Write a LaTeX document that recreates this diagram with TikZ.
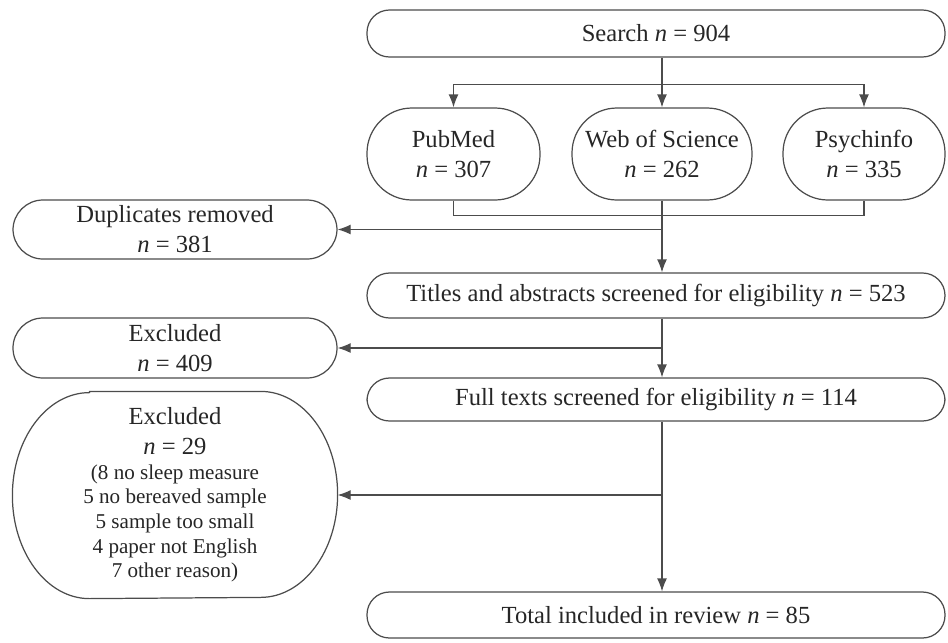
\documentclass[tikz,border=0pt]{standalone}
\usepackage{fontspec}
\setmainfont{Liberation Serif}
\usetikzlibrary{arrows.meta, positioning, calc}
\newcommand{\reasonfont}{\fontsize{12}{14}\selectfont}
\tikzset{
  every node/.style={font=\fontsize{14}{17}\selectfont, text=black!85},
  stage/.style = {rectangle, rounded corners=0.45cm, draw=black!70, line width=0.7pt,
                  minimum width=11.56cm, inner sep=2pt, align=center},
  src/.style   = {rectangle, rounded corners=0.9cm, draw=black!70, line width=0.7pt,
                  minimum height=1.84cm, inner sep=2pt, align=center},
  side/.style  = {rectangle, rounded corners=0.6cm, draw=black!70, line width=0.7pt,
                  minimum width=6.48cm, inner sep=2pt, align=center},
  arrow/.style = {-{Latex[length=2.6mm,width=2mm]}, draw=black!70, line width=0.7pt},
  link/.style  = {draw=black!70, line width=0.7pt},
}

\begin{document}
\begin{tikzpicture}
  \useasboundingbox (0,0) rectangle (18.96,-12.84);

  % ---- search and databases ----
  \node[stage, minimum height=0.94cm] (search) at (13.12,-0.67) {Search \textit{n} = 904};
  \node[src, minimum width=3.46cm] (pub) at (9.07,-3.08)  {PubMed\\\textit{n} = 307};
  \node[src, minimum width=3.60cm] (wos) at (13.24,-3.08) {Web of Science\\\textit{n} = 262};
  \node[src, minimum width=3.24cm] (psy) at (17.28,-3.08) {Psychinfo\\\textit{n} = 335};

  % ---- screening stages (right column) ----
  \node[stage, minimum height=0.90cm] (titles) at (13.12,-5.91)  {Titles and abstracts screened for eligibility \textit{n} = 523};
  \node[stage, minimum height=0.86cm] (full)   at (13.12,-7.99)  {Full texts screened for eligibility \textit{n} = 114};
  \node[stage, minimum height=0.92cm] (total)  at (13.12,-12.30) {Total included in review \textit{n} = 85};

  % ---- removed records (left column) ----
  \node[side, minimum height=1.18cm] (dup)  at (3.5,-4.59) {Duplicates removed\\\textit{n} = 381};
  \node[side, minimum height=1.20cm] (exc1) at (3.5,-6.96) {Excluded\\\textit{n} = 409};
  \node[side, minimum height=4.12cm, draw=none] (exc2) at (3.5,-9.9)
    {Excluded\\\textit{n} = 29\\[-3pt]
     {\reasonfont (8 no sleep measure}\\[-3pt]
     {\reasonfont 5 no bereaved sample}\\[-3pt]
     {\reasonfont 5 sample too small}\\[-3pt]
     {\reasonfont 4 paper not English}\\[-3pt]
     {\reasonfont 7 other reason)}};
  % outline of the tall box, with elliptic ends
  \draw[link] ($(exc2.north west)+(1.54,0)$) -- ($(exc2.north east)+(-1.54,0)$)
    arc[start angle=90, end angle=-90, x radius=1.54cm, y radius=2.06cm]
    -- ($(exc2.south west)+(1.54,0)$)
    arc[start angle=270, end angle=90, x radius=1.54cm, y radius=2.06cm] -- cycle;

  \coordinate (split) at ($(wos.north)+(0,0.46)$);
  \coordinate (merge) at ($(wos.south)+(0,-0.30)$);

  % ---- split into databases ----
  \draw[link]  (search.south -| wos) -- (split);
  \draw[arrow] (split) -- (wos.north);
  \draw[arrow] (split) -| (pub.north);
  \draw[arrow] (split) -| (psy.north);

  % ---- merge databases ----
  \draw[link]  (pub.south) |- (merge) -| (psy.south);
  \draw[arrow] (wos.south) -- (wos |- titles.north);
  \draw[arrow] (wos |- dup.east) -- (dup.east);

  % ---- screening flow ----
  \draw[arrow] (wos |- titles.south) -- (wos |- full.north);
  \draw[arrow] (wos |- exc1.east) -- (exc1.east);
  \draw[arrow] (wos |- full.south) -- (wos |- total.north);
  \draw[arrow] (wos |- exc2.east) -- (exc2.east);
\end{tikzpicture}
\end{document}
